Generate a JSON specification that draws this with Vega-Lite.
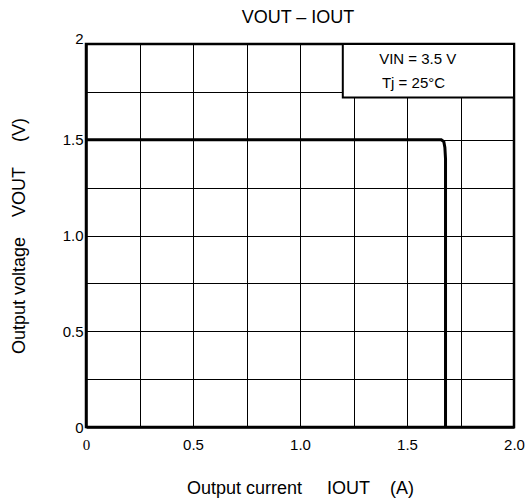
{
  "$schema": "https://vega.github.io/schema/vega-lite/v6.json",
  "autosize": "none",
  "width": 428,
  "height": 383,
  "padding": {"left": 86, "top": 44, "right": 12, "bottom": 75},
  "background": "white",
  "title": {"text": "VOUT – IOUT", "font": "Liberation Sans", "fontSize": 18, "fontWeight": "normal", "color": "black", "offset": 4, "anchor": "middle", "dx": -2},
  "config": {
    "view": {"stroke": "black", "strokeWidth": 2.5},
    "axis": {"grid": true, "gridColor": "black", "gridOpacity": 1, "gridWidth": 1, "domainColor": "black", "domainWidth": 2.5, "ticks": false, "labelFont": "Liberation Sans", "labelFontSize": 15, "labelColor": "black", "labelFlush": false, "titleFont": "Liberation Sans", "titleFontSize": 18, "titleFontWeight": "normal", "titleColor": "black"}
  },
  "datasets": {
    "curve": [
      {"i": 0, "v": 1.5},
      {"i": 1.66, "v": 1.5},
      {"i": 1.672, "v": 1.49},
      {"i": 1.677, "v": 1.46},
      {"i": 1.68, "v": 1.4},
      {"i": 1.68, "v": 0}
    ],
    "box": [{"x1": 1.2, "x2": 2.0, "y1": 1.72, "y2": 2.0}],
    "notes": [
      {"x": 1.37, "y": 1.895, "t": "VIN = 3.5 V"},
      {"x": 1.383, "y": 1.77, "t": "Tj = 25°C"}
    ]
  },
  "layer": [
    {
      "data": {"name": "curve"},
      "mark": {"type": "line", "color": "black", "strokeWidth": 3, "interpolate": "linear"},
      "encoding": {
        "x": {"field": "i", "type": "quantitative", "scale": {"domain": [0, 2], "nice": false},
          "axis": {"values": [0, 0.25, 0.5, 0.75, 1, 1.25, 1.5, 1.75, 2], "labelExpr": "datum.value == 0 ? '0' : (datum.value * 2) % 1 == 0 ? format(datum.value, '.1f') : ''", "labelPadding": 10,
            "labelFont": {"condition": {"test": "datum.value == 0", "value": "Liberation Serif"}, "value": "Liberation Sans"},
            "title": "Output current\u00a0\u00a0\u00a0\u00a0\u00a0IOUT\u00a0\u00a0\u00a0\u00a0(A)", "titleX": 214, "titleY": 66, "titleAnchor": "middle", "titleBaseline": "alphabetic"}},
        "y": {"field": "v", "type": "quantitative", "scale": {"domain": [0, 2], "nice": false},
          "axis": {"values": [0, 0.25, 0.5, 0.75, 1, 1.25, 1.5, 1.75, 2], "labelExpr": "datum.value == 0 ? '0' : datum.value == 2 ? '2' : (datum.value * 2) % 1 == 0 ? format(datum.value, '.1f') : ''", "labelPadding": 3,
            "labelOffset": {"condition": {"test": "datum.value == 2", "value": -6}, "value": 0},
            "title": "Output voltage\u00a0\u00a0\u00a0\u00a0VOUT\u00a0\u00a0\u00a0\u00a0\u00a0(V)", "titleX": -62, "titleY": 191.5, "titleAngle": -90, "titleAnchor": "middle", "titleBaseline": "alphabetic"}},
        "order": {"field": "v", "sort": "descending"}
      }
    },
    {
      "data": {"name": "box"},
      "mark": {"type": "rect", "fill": "white", "stroke": "black", "strokeWidth": 2},
      "encoding": {
        "x": {"field": "x1", "type": "quantitative"},
        "x2": {"field": "x2"},
        "y": {"field": "y1", "type": "quantitative"},
        "y2": {"field": "y2"}
      }
    },
    {
      "data": {"name": "notes"},
      "mark": {"type": "text", "align": "left", "baseline": "alphabetic", "font": "Liberation Sans", "fontSize": 15, "color": "black"},
      "encoding": {
        "x": {"field": "x", "type": "quantitative"},
        "y": {"field": "y", "type": "quantitative"},
        "text": {"field": "t"}
      }
    }
  ]
}
